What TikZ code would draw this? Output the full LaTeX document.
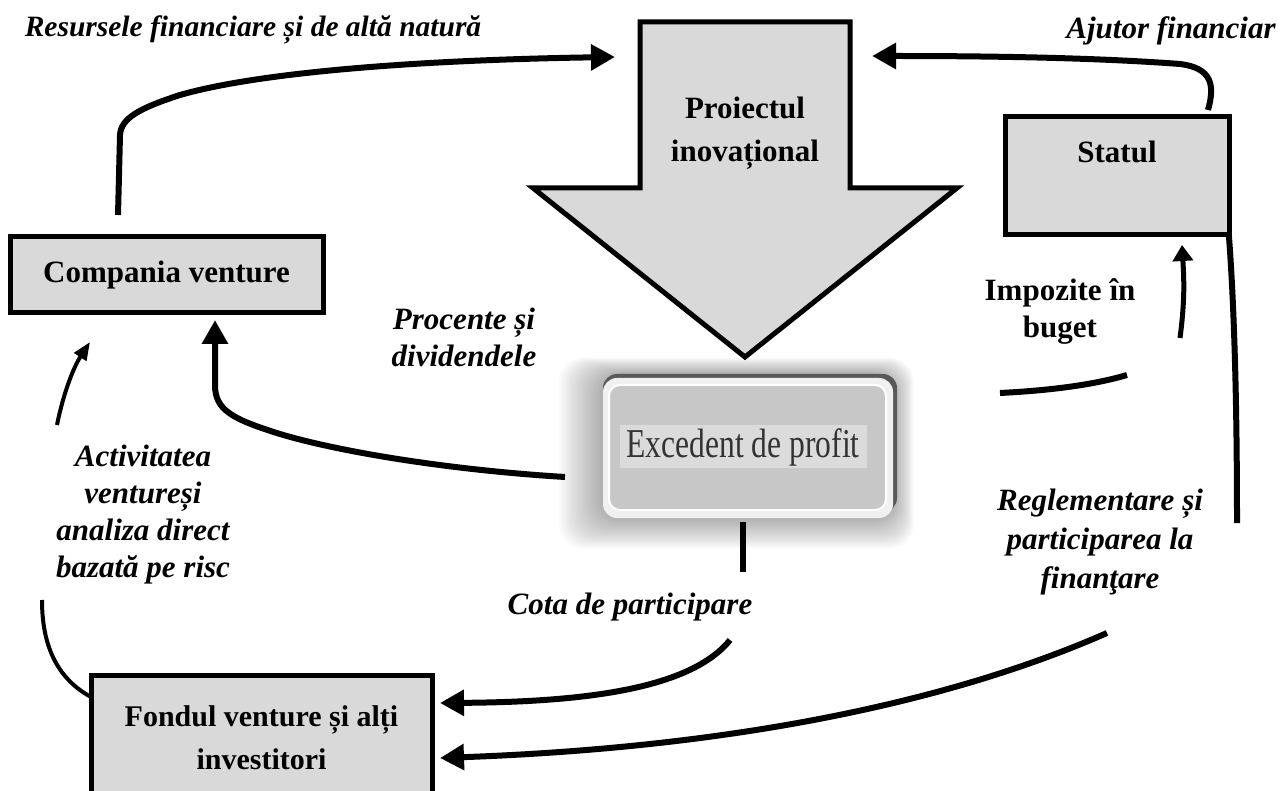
\documentclass[tikz,border=0pt]{standalone}
\usepackage{fontspec}
\setmainfont{Liberation Serif}
\usetikzlibrary{arrows.meta}
\definecolor{boxgray}{HTML}{D9D9D9}
\begin{document}
\begin{tikzpicture}[x=1pt,y=-1pt,
  box/.style={draw, line width=5pt, fill=boxgray, rectangle, inner sep=0pt},
  blbl/.style={font=\bfseries\fontsize{31}{42}\selectfont, align=center, inner sep=0pt},
  ilbl/.style={font=\bfseries\itshape\fontsize{31}{37}\selectfont, align=center, inner sep=0pt},
  flow/.style={line width=6pt, -{Triangle[length=24pt,width=25pt]}},
  flowline/.style={line width=6pt},
  thinflow/.style={line width=4pt, -{Triangle[length=18pt,width=14pt]}}]
\clip (0,0) rectangle (1288,791);
\useasboundingbox (0,0) rectangle (1288,791);

% ---- big arrow: Proiectul inovational
\draw[line width=5pt, fill=boxgray, line join=miter]
  (640,22) -- (850,22) -- (850,188) -- (957,188) -- (745,357) -- (533,188) -- (640,188) -- cycle;
\node[blbl, font=\bfseries\fontsize{31}{43}\selectfont] (proj) at (745,133) {Proiectul\\inovațional};
\coordinate (projL) at (615,57);
\coordinate (projR) at (872,56);

% ---- boxes
\node[box, minimum width=313pt, minimum height=76pt, font=\bfseries\fontsize{31}{37}\selectfont] (comp) at (166.5,275) {Compania venture};
\node[box, minimum width=224pt, minimum height=118pt] (stat) at (1117,176) {};
\node[blbl] (statT) at (1117,152) {Statul};
\node[box, minimum width=341pt, minimum height=125pt, font=\bfseries\fontsize{30}{43}\selectfont, align=center] (fond) at (261.5,737.5) {Fondul venture și alți\\investitori};

% ---- Excedent de profit button
\foreach \i in {1,...,18}{
  \fill[black, opacity=0.018, rounded corners=24pt] (602-2.4*\i,374-0.9*\i) rectangle (894+1.1*\i,518+1.7*\i);
}
\fill[black!65, rounded corners=14pt] (603,374) rectangle (897,512);
\fill[black!6, rounded corners=14pt] (603,378) rectangle (893,518);
\filldraw[fill=black!22, draw=white, line width=2pt, rounded corners=11pt] (609,385) rectangle (886,510);
\fill[black!14] (620,425) rectangle (867,468);
\node[font=\fontsize{41}{45}\selectfont, text=black!80, inner sep=0pt] (ex) at (743,447) {\scalebox{0.77}[1]{Excedent de profit}};

% ---- named free ends
\coordinate (compUp) at (118,215);
\coordinate (statUp) at (1208,110);
\coordinate (exW) at (565,477);
\coordinate (compIn) at (215,320);
\coordinate (exE) at (1000,393);
\coordinate (impA) at (1127,375);
\coordinate (impB) at (1180,338);
\coordinate (statIn) at (1182,245);
\coordinate (statOut) at (1229,237);
\coordinate (regA) at (1237,523);
\coordinate (regB) at (1107,633);
\coordinate (fondIn2) at (440,758);
\coordinate (exS) at (743,522);
\coordinate (cotaA) at (743,572);
\coordinate (cotaB) at (730,640);
\coordinate (fondIn1) at (440,703);
\coordinate (fondW) at (91,697);
\coordinate (actA) at (42,600);
\coordinate (actB) at (57,425);
\coordinate (compIn2) at (90,342);

% ---- connectors
\draw[flow] (compUp) -- (120,135) .. controls (121,118) and (140,108) .. (180,95)
  .. controls (260,72) and (420,60) .. (projL);
\draw[flow] (statUp) .. controls (1215,85) and (1212,68) .. (1180,64)
  .. controls (1100,58) and (1000,56) .. (projR);
\draw[flow] (exW) .. controls (450,470) and (340,452) .. (280,434)
  .. controls (232,419) and (215,410) .. (215,385) -- (compIn);
\draw[flowline] (exE) .. controls (1060,390) and (1100,383) .. (impA);
\draw[line width=5pt, -{Triangle[length=16pt,width=20pt]}] (impB) .. controls (1185,300) and (1184,280) .. (statIn);
\draw[flowline] (statOut) .. controls (1236,330) and (1237,450) .. (regA);
\draw[flow] (regB) .. controls (1000,680) and (800,745) .. (fondIn2);
\draw[flowline] (exS) -- (cotaA);
\draw[flow] (cotaB) .. controls (690,690) and (580,702) .. (fondIn1);
\draw[line width=4pt] (fondW) .. controls (60,680) and (42,650) .. (actA);
\draw[thinflow] (actB) .. controls (63,395) and (73,368) .. (compIn2);

% ---- labels
\node[ilbl, font=\bfseries\itshape\fontsize{29.5}{37}\selectfont] (lres) at (253,30) {Resursele financiare și de altă natură};
\node[ilbl] (laj) at (1171,31) {Ajutor financiar};
\node[blbl, font=\bfseries\fontsize{31}{37}\selectfont] (limp) at (1060,311) {Impozite în\\buget};
\node[ilbl] (lproc) at (464,337) {Procente și\\dividendele};
\node[ilbl] (lact) at (143,515) {Activitatea\\ventureși\\analiza direct\\bazată pe risc};
\node[ilbl, font=\bfseries\itshape\fontsize{31}{39}\selectfont] (lreg) at (1100,542) {Reglementare și\\participarea la\\finanţare};
\node[ilbl] (lcota) at (630,607) {Cota de participare};
\end{tikzpicture}
\end{document}
